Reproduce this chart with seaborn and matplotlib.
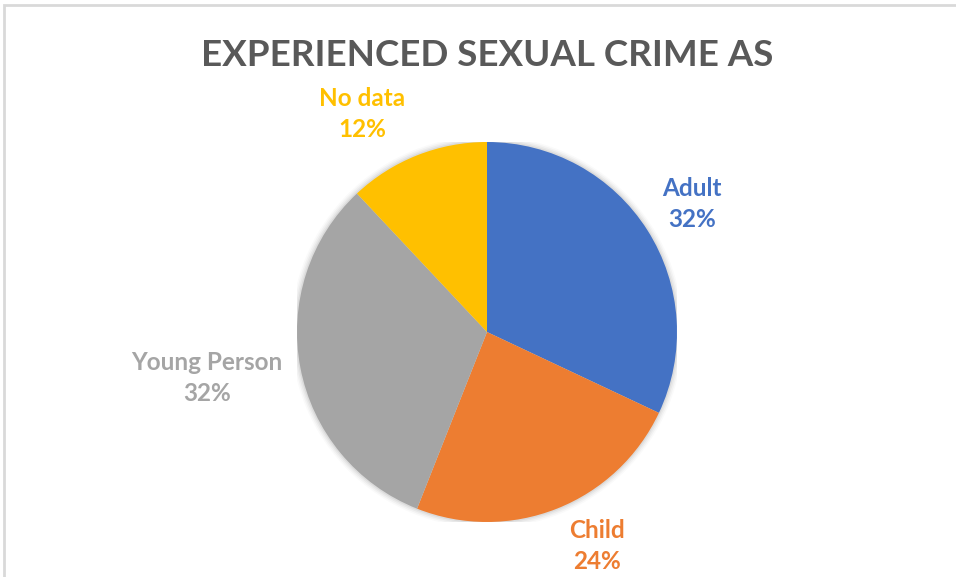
import matplotlib
matplotlib.use("Agg")
import matplotlib.pyplot as plt
import seaborn as sns
from matplotlib.patches import Rectangle

sns.set_theme(style="white")
plt.rcParams['font.family'] = ['Lato', 'DejaVu Sans']

categories = ["Adult", "Child", "Young Person", "No data"]
values = [32, 24, 32, 12]
colors = ["#4472C4", "#ED7D31", "#A5A5A5", "#FFC000"]
title = "EXPERIENCED SEXUAL CRIME AS"

W, H = 956, 577
fig = plt.figure(figsize=(W / 100, H / 100), dpi=100)
fig.patch.set_facecolor("white")

# border (light gray frame, cropped at right/bottom)
fig.patches.append(Rectangle((4 / W, -0.1), 1.2, 1.1 - 4.5 / H,
                             transform=fig.transFigure, fill=False,
                             edgecolor="#D9D9D9", linewidth=2, zorder=0))

cx, cy, r = 487, 332, 190
ax = fig.add_axes([(cx - r) / W, (H - cy - r) / H, 2 * r / W, 2 * r / H])

# soft shadow
for i, a in enumerate([0.05, 0.04, 0.03, 0.02]):
    ax.add_patch(plt.Circle((0, 0), 1 + 0.008 * (i + 1), color="black", alpha=a, lw=0, zorder=0))

wedges, _ = ax.pie(values, colors=colors, startangle=90, counterclock=False,
                   wedgeprops=dict(linewidth=0, zorder=2))
ax.set_xlim(-1, 1)
ax.set_ylim(-1, 1)
ax.set_aspect("equal")
ax.axis("off")

# label positions (layout, in units of radius, relative to pie center)
label_pos = [(1.08, 0.674), (0.579, -1.126), (-1.474, -0.242), (-0.658, 1.147)]
for cat, v, col, (lx, ly) in zip(categories, values, colors, label_pos):
    ax.text(lx, ly, f"{cat}\n{v}%", color=col, fontsize=17.5, fontweight="bold",
            ha="center", va="center", linespacing=1.42, clip_on=False)

fig.text(487 / W, 1 - 56 / H, title, ha="center", va="center",
         fontsize=26.5, fontweight="bold", color="#595959")

fig.savefig("out.png", dpi=100)
